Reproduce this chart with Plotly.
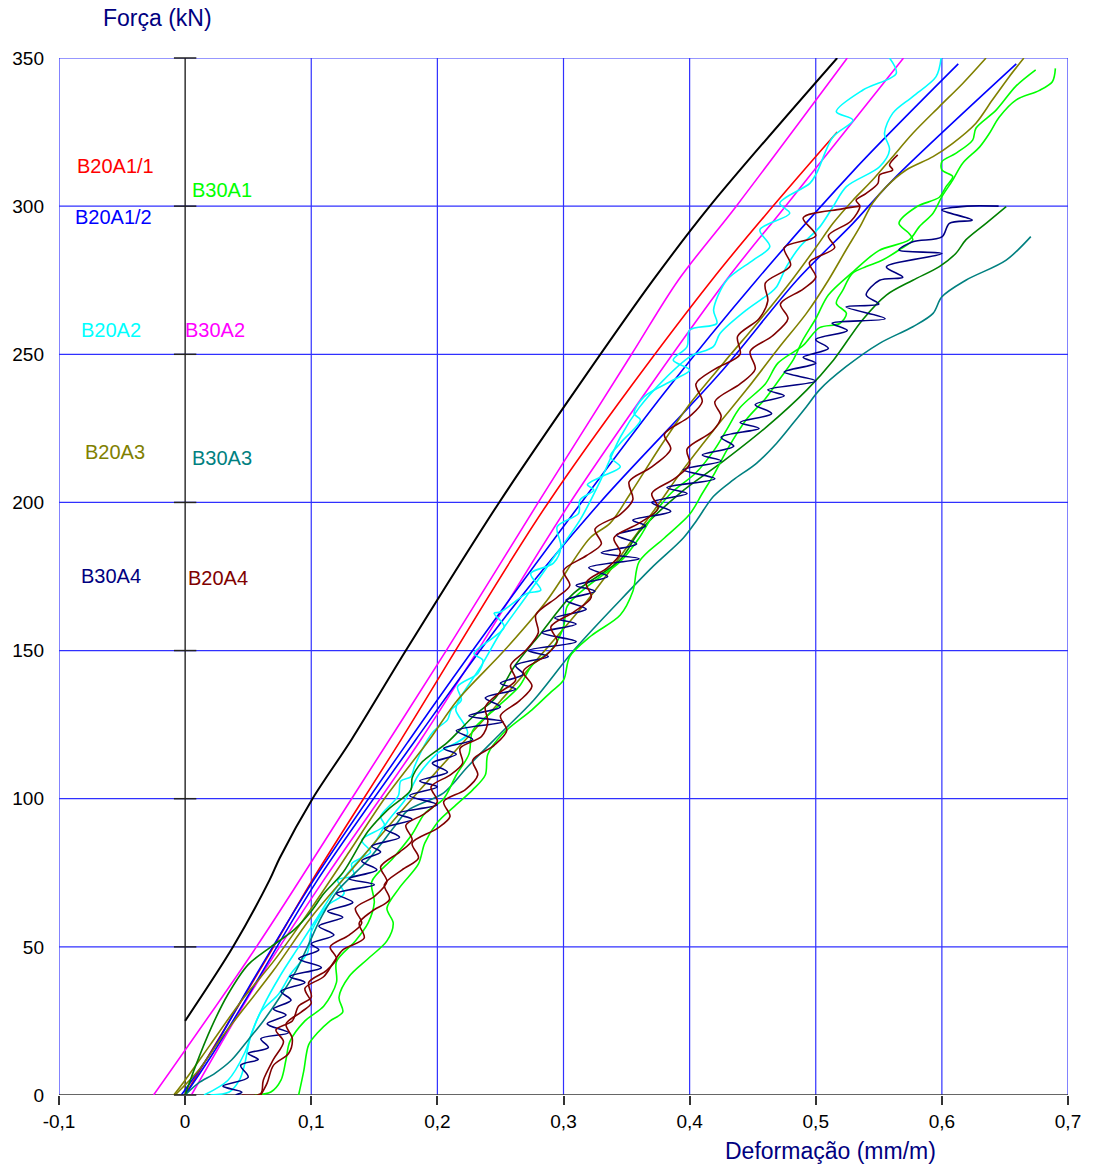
import plotly.graph_objects as go

# ---------------- data ----------------
x_tick_vals = [-0.1, 0, 0.1, 0.2, 0.3, 0.4, 0.5, 0.6, 0.7]
x_tick_text = ["-0,1", "0", "0,1", "0,2", "0,3", "0,4", "0,5", "0,6", "0,7"]
y_tick_vals = [0, 50, 100, 150, 200, 250, 300, 350]

black_curve = [(0, 25), (0.038, 50), (0.067, 72.6), (0.075, 80), (0.101, 100), (0.132, 120), (0.175, 150),
               (0.249, 200), (0.313, 240), (0.371, 275), (0.416, 300), (0.517, 350)]

B20A1_1 = [(0, 0), (0.064, 45.6), (0.101, 72.6), (0.171, 119.8), (0.288, 200), (0.4175, 275), (0.517, 325)]

B20A1_2a = [(-0.003, 0), (0.02, 14), (0.05, 36), (0.102, 72.6), (0.178, 120), (0.25, 163), (0.316, 201),
            (0.38, 237), (0.453, 275), (0.53, 312), (0.613, 348)]
B20A1_2b = [(0.0, 0), (0.022, 14), (0.052, 35), (0.105, 72.6), (0.183, 120), (0.255, 162), (0.329, 200),
            (0.424, 243.6), (0.485, 275), (0.5295, 294.2), (0.561, 308.8), (0.659, 348)]

B30A2_a = [(-0.025, 0), (0.0565, 50), (0.132, 100), (0.207, 150), (0.28, 200), (0.354, 250), (0.391, 275),
           (0.437, 300), (0.525, 350)]
B30A2_b = [(0.005, 0), (0.06, 40), (0.11, 72.6), (0.187, 120), (0.232, 150), (0.31, 203), (0.429, 275),
           (0.476, 300), (0.5696, 350)]

B20A2_a = [(0.015, 0), (0.034, 5), (0.047, 14), (0.053, 21), (0.06, 28), (0.074, 34), (0.084, 41), (0.097, 48),
           (0.1, 55), (0.113, 64), (0.126, 68), (0.121, 72.6), (0.134, 74), (0.132, 78), (0.147, 82), (0.14, 86),
           (0.158, 91), (0.155, 94), (0.169, 101), (0.171, 106), (0.179, 107.4), (0.182, 111), (0.192, 119.8),
           (0.1975, 123), (0.208, 126.6), (0.211, 130), (0.219, 133.3), (0.216, 137.8), (0.232, 142.3),
           (0.236, 146.8), (0.229, 149), (0.253, 158), (0.245, 162.6), (0.25, 163), (0.271, 169.3),
           (0.282, 170.4), (0.274, 176), (0.292, 179.5), (0.298, 185), (0.295, 191.8), (0.312, 196.3),
           (0.313, 200.8), (0.324, 204.2), (0.319, 206), (0.329, 208.5), (0.345, 212), (0.337, 215.4),
           (0.345, 220), (0.361, 227.8), (0.356, 230), (0.364, 235.7), (0.387, 241.3), (0.4, 244.7),
           (0.387, 248), (0.398, 252.6), (0.4, 258.2), (0.4215, 260.4), (0.419, 265), (0.4294, 275),
           (0.4504, 281.8), (0.4636, 286.3), (0.4557, 292), (0.4794, 297.6), (0.4715, 301), (0.4953, 307.7),
           (0.5005, 311), (0.5137, 323.4), (0.5295, 329), (0.5163, 331.9), (0.5374, 339.2), (0.5638, 344.8),
           (0.5585, 350)]
B20A2_b = [(0.02, 0), (0.035, 1), (0.043, 5), (0.047, 10), (0.052, 20), (0.062, 30), (0.075, 40), (0.09, 50),
           (0.105, 60), (0.12, 70), (0.135, 78), (0.15, 85), (0.16, 92), (0.175, 100), (0.185, 108),
           (0.2, 115.3), (0.2239, 122), (0.2146, 130), (0.2172, 133.3), (0.235, 145), (0.25, 156), (0.27, 168),
           (0.295, 183), (0.313, 194), (0.33, 208), (0.345, 222), (0.36, 232), (0.3793, 241.3), (0.4004, 249.2),
           (0.4188, 252.6), (0.4241, 257), (0.4452, 265), (0.4636, 270.6), (0.469, 272.8), (0.4768, 279.6),
           (0.4874, 286.3), (0.5032, 293), (0.5137, 299.8), (0.5243, 306.6), (0.5506, 313.3), (0.5585, 319),
           (0.5545, 324.6), (0.5611, 331.4), (0.5769, 337), (0.5954, 343.7), (0.5994, 350)]

B20A3_a = [(-0.009, 0), (0.0, 5), (0.02, 17), (0.045, 32), (0.071, 45.6), (0.1, 63), (0.13, 82), (0.158, 100),
           (0.1935, 119.8), (0.216, 133.3), (0.253, 150), (0.287, 167), (0.321, 188), (0.337, 193),
           (0.353, 203), (0.3767, 218.8), (0.4004, 233.4), (0.4267, 247), (0.4557, 261.6), (0.481, 275),
           (0.5005, 286.3), (0.5137, 294.2), (0.5295, 302), (0.545, 308.8), (0.561, 316.7), (0.577, 324.6),
           (0.598, 333.6), (0.6165, 341.4), (0.635, 350)]
B20A3_b = [(-0.008, 0), (0.01, 8), (0.03, 20), (0.07, 42), (0.1, 60), (0.14, 80), (0.18, 100), (0.25, 133),
           (0.319, 167), (0.3556, 188), (0.374, 198.6), (0.3925, 209.8), (0.419, 224.4), (0.445, 238),
           (0.4715, 252.6), (0.4926, 263.8), (0.51, 275), (0.524, 285.2), (0.535, 293), (0.545, 301),
           (0.556, 306.6), (0.5717, 312.2), (0.593, 316.7), (0.6086, 321.2), (0.627, 328), (0.640, 335.8),
           (0.6534, 343.7), (0.665, 350)]

B30A3_a = [(0, 0), (0.0105, 4), (0.0236, 7.3), (0.0368, 11.8), (0.05, 18.6), (0.062, 25), (0.075, 33),
           (0.088, 42), (0.097, 50), (0.108, 60), (0.121, 69), (0.145, 79.3), (0.166, 90.6), (0.1764, 96),
           (0.205, 102), (0.224, 110.8), (0.25, 122), (0.2765, 133.3), (0.308, 150), (0.345, 167), (0.37, 178),
           (0.395, 188), (0.4057, 194), (0.4188, 202), (0.4346, 207.6), (0.453, 213.2), (0.469, 220),
           (0.482, 226.7), (0.4926, 232.3), (0.503, 238), (0.524, 245.8), (0.5506, 253.7), (0.577, 259.3),
           (0.593, 263.8), (0.6, 269.4), (0.619, 275), (0.651, 281.8), (0.6705, 289.7)]
B30A3_b = [(0, 0), (0.008, 9.5), (0.021, 23), (0.034, 34), (0.05, 44), (0.068, 50), (0.087, 56), (0.1, 62),
           (0.11, 68), (0.125, 75), (0.145, 89), (0.16, 96), (0.179, 103), (0.18, 107), (0.187, 112),
           (0.208, 119), (0.229, 128), (0.246, 134), (0.261, 144.6), (0.282, 155.8), (0.308, 169.3),
           (0.345, 180.6), (0.36, 190), (0.392, 203), (0.427, 214), (0.461, 225.5), (0.493, 238), (0.514, 248),
           (0.537, 261.6), (0.556, 270), (0.577, 275), (0.598, 279.6), (0.611, 284), (0.619, 288.6),
           (0.635, 294.2), (0.651, 299.8)]

B30A1_a = [(0.055, 0), (0.068, 1), (0.076, 5), (0.08, 12), (0.083, 18), (0.095, 25), (0.11, 30), (0.12, 38),
           (0.12, 45), (0.135, 52), (0.145, 58), (0.15, 65), (0.148, 72), (0.165, 80), (0.18, 88), (0.19, 95),
           (0.205, 100), (0.215, 108), (0.225, 115), (0.228, 123), (0.245, 130), (0.265, 138), (0.275, 145),
           (0.29, 150), (0.3, 158), (0.303, 165), (0.32, 172), (0.345, 180), (0.36, 188), (0.37, 195),
           (0.385, 203), (0.405, 210), (0.42, 218), (0.43, 225), (0.44, 232), (0.46, 240), (0.47, 247),
           (0.49, 253), (0.503, 259), (0.519, 260.4), (0.5243, 263.8), (0.5163, 267.2), (0.5216, 271.7),
           (0.529, 277.3), (0.54, 279.6), (0.553, 281.8), (0.566, 285.2), (0.577, 288.6), (0.574, 290.8),
           (0.566, 294.2), (0.58, 299.8), (0.598, 303), (0.6033, 306.6), (0.6086, 310), (0.6, 312.2),
           (0.6, 315), (0.611, 317.8), (0.6244, 322.3), (0.627, 326.3), (0.643, 332.4), (0.6587, 340.5),
           (0.6744, 346)]
B30A1_b = [(0.09, 0), (0.094, 8), (0.098, 17), (0.105, 21), (0.115, 25), (0.125, 28), (0.122, 33), (0.13, 40),
           (0.145, 46), (0.16, 52), (0.165, 58), (0.16, 63), (0.17, 70), (0.185, 78), (0.19, 85), (0.2, 92),
           (0.215, 98), (0.228, 103), (0.238, 108), (0.24, 115), (0.252, 122), (0.275, 130), (0.29, 136),
           (0.3, 140), (0.305, 148), (0.322, 155), (0.345, 162), (0.355, 170), (0.36, 180), (0.38, 188),
           (0.4, 196), (0.41, 203), (0.42, 210), (0.43, 218), (0.445, 228), (0.46, 235), (0.472, 242),
           (0.482, 248), (0.49, 255), (0.5, 262), (0.51, 270), (0.53, 278), (0.55, 285), (0.574, 288.6),
           (0.582, 293), (0.593, 297.6), (0.6, 303.2), (0.6086, 308.8), (0.6165, 314.5), (0.63, 320),
           (0.6376, 324.5), (0.6454, 330), (0.6587, 335.8), (0.677, 339), (0.6876, 342), (0.690, 346.5)]

B30A4 = [(0.04, 0), (0.045, 1), (0.03, 3), (0.05, 6), (0.044, 10), (0.058, 12), (0.05, 14), (0.066, 16),
         (0.06, 19), (0.082, 21), (0.065, 24), (0.08, 27), (0.07, 29), (0.084, 32), (0.076, 35), (0.095, 38),
         (0.083, 40), (0.108, 43), (0.09, 46), (0.106, 49), (0.1, 51), (0.118, 54), (0.106, 57), (0.125, 60),
         (0.113, 62), (0.133, 65), (0.12, 68), (0.15, 71), (0.13, 73), (0.152, 76), (0.14, 79), (0.155, 82),
         (0.148, 84), (0.17, 87), (0.158, 90), (0.18, 93), (0.168, 95), (0.2, 98), (0.178, 101), (0.2, 104),
         (0.186, 106), (0.208, 109), (0.196, 112), (0.215, 115), (0.205, 117), (0.228, 120), (0.215, 123),
         (0.252, 126), (0.225, 128), (0.25, 131), (0.238, 134), (0.262, 137), (0.25, 139), (0.268, 142),
         (0.262, 145), (0.288, 148), (0.272, 150), (0.31, 153), (0.283, 156), (0.31, 159), (0.293, 161),
         (0.318, 164), (0.302, 167), (0.325, 170), (0.31, 172), (0.335, 175), (0.32, 178), (0.36, 181),
         (0.33, 183), (0.358, 186), (0.342, 189), (0.365, 192), (0.355, 194), (0.385, 197), (0.37, 200),
         (0.398, 203), (0.382, 205), (0.42, 208), (0.395, 211), (0.425, 214), (0.41, 216), (0.435, 219),
         (0.425, 222), (0.455, 225), (0.44, 227), (0.465, 230), (0.452, 233), (0.475, 236), (0.462, 238),
         (0.5, 241), (0.475, 244), (0.5, 247), (0.49, 249), (0.51, 252), (0.5, 255), (0.525, 258),
         (0.513, 260.5), (0.555, 262), (0.524, 266), (0.55, 267), (0.54, 270), (0.5506, 275), (0.569, 276),
         (0.556, 279.5), (0.6, 284), (0.566, 285.2), (0.577, 288), (0.6, 289.6), (0.606, 294.2),
         (0.624, 295.3), (0.6, 298.7), (0.62, 300), (0.645, 300)]

B20A4_a = [(0.045, 0), (0.06, 0.5), (0.062, 5), (0.07, 12), (0.078, 18), (0.072, 22), (0.085, 25), (0.09, 30),
           (0.1, 33), (0.098, 38), (0.112, 42), (0.12, 46), (0.115, 50), (0.13, 54), (0.14, 58), (0.135, 63),
           (0.15, 67), (0.16, 72), (0.155, 77), (0.17, 82), (0.18, 86), (0.175, 91), (0.19, 95), (0.2, 99),
           (0.195, 104), (0.21, 108), (0.22, 112), (0.218, 117), (0.235, 121), (0.24, 126), (0.238, 131),
           (0.25, 136), (0.262, 140), (0.258, 145), (0.27, 150), (0.28, 156), (0.278, 162), (0.295, 168),
           (0.305, 172), (0.3, 177), (0.318, 182), (0.33, 186), (0.325, 191), (0.345, 196), (0.355, 201),
           (0.352, 207), (0.37, 212), (0.385, 218), (0.38, 223), (0.4, 229), (0.41, 234), (0.405, 240),
           (0.42, 245), (0.44, 250), (0.438, 256), (0.455, 262), (0.462, 268), (0.46, 274), (0.48, 280),
           (0.475, 286), (0.5, 290), (0.49, 296), (0.52, 299), (0.535, 300)]
B20A4_b = [(0.06, 0), (0.065, 4), (0.07, 10), (0.082, 14), (0.085, 19), (0.08, 24), (0.092, 28), (0.1, 31),
           (0.095, 36), (0.11, 40), (0.118, 45), (0.125, 49), (0.142, 53), (0.138, 58), (0.148, 62),
           (0.162, 66), (0.158, 71), (0.172, 76), (0.185, 80), (0.18, 85), (0.2, 90), (0.21, 94), (0.205, 99),
           (0.222, 103), (0.232, 108), (0.228, 113), (0.245, 118), (0.255, 123), (0.25, 128), (0.265, 133),
           (0.275, 138), (0.268, 143), (0.285, 148), (0.295, 153), (0.29, 158), (0.308, 163), (0.322, 168),
           (0.318, 173), (0.335, 178), (0.345, 183), (0.34, 188), (0.36, 193), (0.375, 198), (0.37, 203),
           (0.388, 208), (0.4, 213), (0.398, 218), (0.418, 224), (0.425, 229), (0.42, 234), (0.44, 240),
           (0.452, 245), (0.448, 251), (0.465, 256), (0.478, 262), (0.472, 267), (0.49, 272), (0.5, 276),
           (0.495, 281), (0.515, 286), (0.51, 290), (0.528, 295), (0.535, 300), (0.532, 302), (0.54, 304.3),
           (0.5493, 307.7), (0.5506, 310.5), (0.561, 312.2), (0.5585, 313.9), (0.565, 317.3)]

# label text, colour and position (data units)
labels = [("B20A1/1", "#FF0000", -0.055, 313.5), ("B30A1", "#00FF00", 0.029, 305.5),
          ("B20A1/2", "#0000FF", -0.057, 296.5), ("B20A2", "#00FFFF", -0.059, 258.2),
          ("B30A2", "#FF00FF", 0.024, 258.2), ("B20A3", "#808000", -0.0555, 217.0),
          ("B30A3", "#008080", 0.029, 215.0), ("B30A4", "#000080", -0.059, 175.2),
          ("B20A4", "#800000", 0.026, 174.5)]

series = [
    (black_curve, "#000000", 2.0),
    (B30A2_a, "#FF00FF", 1.6), (B30A2_b, "#FF00FF", 1.6),
    (B20A1_1, "#FF0000", 1.6),
    (B20A1_2a, "#0000FF", 1.6), (B20A1_2b, "#0000FF", 1.6),
    (B20A2_a, "#00FFFF", 1.6), (B20A2_b, "#00FFFF", 1.6),
    (B20A3_a, "#808000", 1.6), (B20A3_b, "#808000", 1.6),
    (B30A3_a, "#008080", 1.6), (B30A3_b, "#008000", 1.6),
    (B30A1_a, "#00FF00", 1.6), (B30A1_b, "#00FF00", 1.6),
    (B30A4, "#000080", 1.6),
    (B20A4_a, "#800000", 1.6), (B20A4_b, "#800000", 1.6),
]

FONT = "Arial, 'Liberation Sans', sans-serif"
GRID = "#3030ff"
X0, X1 = x_tick_vals[0], x_tick_vals[-1]
Y0, Y1 = y_tick_vals[0], y_tick_vals[-1]

fig = go.Figure()
for pts, col, w in series:
    fig.add_trace(go.Scatter(x=[p[0] for p in pts], y=[p[1] for p in pts], mode="lines",
                             line=dict(color=col, width=w, shape="spline", smoothing=0.9),
                             showlegend=False, hoverinfo="skip"))

# small black tick marks across the x=0 axis line
fig.add_trace(go.Scatter(x=[0] * len(y_tick_vals), y=y_tick_vals, mode="markers",
                         marker=dict(symbol="line-ew-open", size=16, color="#222222",
                                     line=dict(color="#222222", width=1.5)),
                         showlegend=False, hoverinfo="skip", cliponaxis=False))

for txt, col, lx, ly in labels:
    fig.add_annotation(x=lx, y=ly, text=txt, showarrow=False, xanchor="center", yanchor="middle",
                       font=dict(family=FONT, size=20, color=col))

fig.add_annotation(xref="paper", yref="paper", x=(156 - 57) / 1012, y=1 + (58 - 18) / 1037,
                   text="Força (kN)", showarrow=False, xanchor="center", yanchor="middle",
                   font=dict(family=FONT, size=23, color="#000080"))
fig.add_annotation(xref="paper", yref="paper", x=(831 - 57) / 1012, y=-(1151 - 1095) / 1037,
                   text="Deformação (mm/m)", showarrow=False, xanchor="center", yanchor="middle",
                   font=dict(family=FONT, size=23, color="#000080"))

# horizontal grid lines (blue) above y = 0
for yv in y_tick_vals[1:]:
    fig.add_shape(type="line", xref="x", yref="y", x0=X0, x1=X1, y0=yv, y1=yv,
                  line=dict(color=GRID, width=1.2), layer="below")
# vertical grid lines (blue) at the x tick values, black line at x = 0
for xv in x_tick_vals:
    fig.add_shape(type="line", xref="x", yref="y", x0=xv, x1=xv, y0=Y0, y1=Y1,
                  line=dict(color="#000000" if xv == 0 else GRID, width=1.2), layer="below")
# dark x axis line at y = 0
fig.add_shape(type="line", xref="x", yref="y", x0=X0, x1=X1, y0=Y0, y1=Y0,
              line=dict(color="#333333", width=1.5), layer="below")

fig.update_layout(
    width=1093, height=1167,
    margin=dict(l=57, r=24, t=58, b=72),
    paper_bgcolor="white", plot_bgcolor="white",
    showlegend=False,
    xaxis=dict(range=[X0, X1], tickvals=x_tick_vals, ticktext=x_tick_text,
               showgrid=False, zeroline=False, showline=False,
               ticks="outside", ticklen=9, tickcolor="#333333", tickwidth=1.5,
               tickfont=dict(family=FONT, size=19, color="#000000")),
    yaxis=dict(range=[Y0, Y1], tickvals=y_tick_vals, ticktext=[str(v) for v in y_tick_vals],
               showgrid=False, zeroline=False, showline=False, ticks="", ticklabelstandoff=14,
               tickfont=dict(family=FONT, size=19, color="#000000")),
)

fig.write_html("out.html", config={"displayModeBar": False},
               post_script="document.body.style.margin='0';document.body.style.overflow='hidden';")
